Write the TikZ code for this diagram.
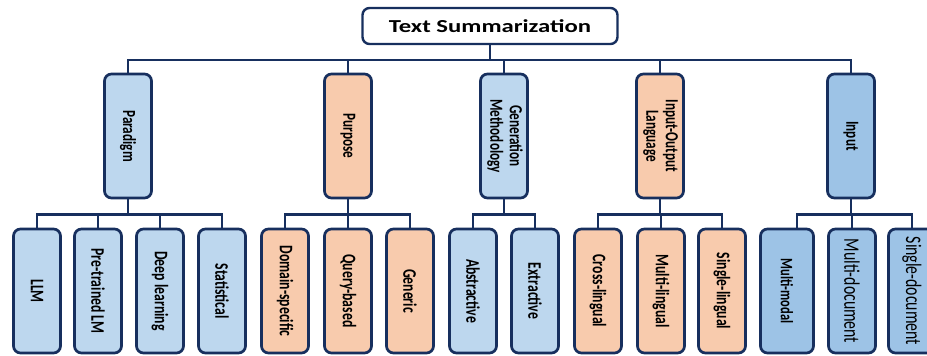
\documentclass[tikz,border=0pt]{standalone}
\usepackage{fontspec}
\setmainfont{Carlito}
\usepackage{graphicx}
\usetikzlibrary{positioning}

\definecolor{navy}{HTML}{172F5E}
\definecolor{lblue}{HTML}{BDD7EE}
\definecolor{peach}{HTML}{F8CBAD}
\definecolor{mblue}{HTML}{9DC3E6}

% rotated label, stretched like the original figure
\newcommand\vtxt[1]{\rotatebox{-90}{\scalebox{1}[1.4]{#1}}}
\newcommand\twoline[2]{\begin{tabular}{@{}c@{}}#1\\#2\end{tabular}}

\begin{document}
\begin{tikzpicture}[x=1pt,y=-1pt,
  link/.style={draw=navy,line width=2.4pt},
  root/.style={draw=navy,line width=2.4pt,rounded corners=7pt,fill=white,minimum width=255pt,minimum height=36pt,inner sep=0pt,font=\fontsize{18.3}{20}\selectfont\bfseries},
  cat/.style={draw=navy,line width=2.7pt,rounded corners=7pt,minimum width=47pt,minimum height=124pt,inner sep=0pt,font=\fontsize{13.2}{13.8}\selectfont\bfseries},
  leaf/.style={cat,font=\fontsize{13.7}{14.5}\selectfont\bfseries}]
  \useasboundingbox (0,0) rectangle (927,356);

  % root
  \node[root] (ts) at (490,26) {\scalebox{1.35}[1]{Text Summarization}};

  % categories
  \node[cat,fill=lblue] (para) at (128,136) {\vtxt{Paradigm}};
  \node[cat,fill=peach] (purp) at (348,136) {\vtxt{Purpose}};
  \node[cat,fill=lblue] (gen) at (504,136) {\vtxt{\twoline{Generation}{Methodology}}};
  \node[cat,fill=peach] (iol) at (660,136) {\vtxt{\twoline{Input-Output}{Language}}};
  \node[cat,fill=mblue] (inp) at (851,136) {\vtxt{Input}};

  % leaves
  \node[leaf,fill=lblue] (llm) at (37,291) {\vtxt{LLM}};
  \node[leaf,fill=lblue] (ptlm) at (98,291) {\vtxt{Pre-trained LM}};
  \node[leaf,fill=lblue] (dl) at (160,291) {\vtxt{Deep learning}};
  \node[leaf,fill=lblue] (stat) at (222,291) {\vtxt{Statistical}};
  \node[leaf,fill=peach] (dom) at (285,291) {\vtxt{Domain-specific}};
  \node[leaf,fill=peach] (qry) at (348,291) {\vtxt{Query-based}};
  \node[leaf,fill=peach] (gnr) at (410,291) {\vtxt{Generic}};
  \node[leaf,fill=lblue] (abs) at (473,291) {\vtxt{Abstractive}};
  \node[leaf,fill=lblue] (ext) at (535,291) {\vtxt{Extractive}};
  \node[leaf,fill=peach] (cl) at (598,291) {\vtxt{Cross-lingual}};
  \node[leaf,fill=peach] (ml) at (661,291) {\vtxt{Multi-lingual}};
  \node[leaf,fill=peach] (sl) at (722,291) {\vtxt{Single-lingual}};
  \node[leaf,fill=mblue,minimum width=53pt,font=\fontsize{12.5}{13.5}\selectfont\bfseries] (mm) at (787,291) {\vtxt{Multi-modal}};
  \node[leaf,fill=mblue,font=\fontsize{15.8}{16.5}\selectfont] (md) at (852,291) {\vtxt{Multi-document}};
  \node[leaf,fill=mblue,font=\fontsize{15.8}{16.5}\selectfont] (sd) at (912,291) {\vtxt{Single-document}};

  % connectors
  \foreach \c in {para,purp,gen,iol,inp}
    \draw[link] (ts.south) -- ++(0,15) -| (\c.north);
  \foreach \c in {llm,ptlm,dl,stat}
    \draw[link] (para.south) -- ++(0,15) -| (\c.north);
  \foreach \c in {dom,qry,gnr}
    \draw[link] (purp.south) -- ++(0,15) -| (\c.north);
  \foreach \c in {abs,ext}
    \draw[link] (gen.south) -- ++(0,15) -| (\c.north);
  \foreach \c in {cl,ml,sl}
    \draw[link] (iol.south) -- ++(0,15) -| (\c.north);
  \draw[link] (inp.south) -- ++(0,15) -| ([xshift=10pt]mm.north);
  \foreach \c in {md,sd}
    \draw[link] (inp.south) -- ++(0,15) -| (\c.north);
\end{tikzpicture}
\end{document}
